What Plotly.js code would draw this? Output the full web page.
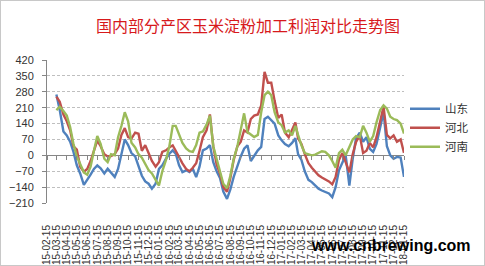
<!DOCTYPE html>
<html>
<head>
<meta charset="utf-8">
<script src="https://cdn.plot.ly/plotly-3.0.1.min.js"></script>
<style>
  html, body { margin:0; padding:0; background:#fff; }
  #wrap { position:relative; width:485px; height:266px; }
  #chart { position:absolute; left:0; top:0; width:485px; height:266px; }
  #frame { position:absolute; left:0; top:0; width:483px; height:264px; border:1px solid #c8c8c8; pointer-events:none; }
</style>
</head>
<body>
<div id="wrap"><div id="chart"></div><div id="frame"></div></div>
<script>
// ---- data ----
const dates = [
  '2015-03-15','2015-03-25',
  '2015-04-05','2015-04-15','2015-04-25',
  '2015-05-05','2015-05-15','2015-05-25',
  '2015-06-05','2015-06-15','2015-06-25',
  '2015-07-05','2015-07-15','2015-07-25',
  '2015-08-05','2015-08-15','2015-08-25',
  '2015-09-05','2015-09-15','2015-09-25',
  '2015-10-05','2015-10-15','2015-10-25',
  '2015-11-05','2015-11-15','2015-11-25',
  '2015-12-05','2015-12-15','2015-12-25',
  '2016-01-05','2016-01-15','2016-01-25',
  '2016-02-05','2016-02-15','2016-02-25',
  '2016-03-05','2016-03-15','2016-03-25',
  '2016-04-05','2016-04-15','2016-04-25',
  '2016-05-05','2016-05-15','2016-05-25',
  '2016-06-05','2016-06-15','2016-06-25',
  '2016-07-05','2016-07-15','2016-07-25',
  '2016-08-05','2016-08-15','2016-08-25',
  '2016-09-05','2016-09-15','2016-09-25',
  '2016-10-05','2016-10-15','2016-10-25',
  '2016-11-05','2016-11-15','2016-11-25',
  '2016-12-05','2016-12-15','2016-12-25',
  '2017-01-05','2017-01-15','2017-01-25',
  '2017-02-05','2017-02-15','2017-02-25',
  '2017-03-05','2017-03-15','2017-03-25',
  '2017-04-05','2017-04-15','2017-04-25',
  '2017-05-05','2017-05-15','2017-05-25',
  '2017-06-05','2017-06-15','2017-06-25',
  '2017-07-05','2017-07-15','2017-07-25',
  '2017-08-05','2017-08-15','2017-08-25',
  '2017-09-05','2017-09-15','2017-09-25',
  '2017-10-05','2017-10-15','2017-10-25',
  '2017-11-05','2017-11-15','2017-11-25',
  '2017-12-05','2017-12-15','2017-12-25',
  '2018-01-05','2018-01-15'
];

const shandong = [
  268, 200,
  105, 88, 60,
  15, -44, -80,
  -130, -110, -85,
  -60, -44, -57,
  -80, -59, -74,
  -95, -60, 10,
  70, 45, 10,
  -5, -45, -90,
  -115, -125, -147,
  -125, -60, -44,
  -15, 7, 22,
  7, -44, -74,
  -66, -74, -59,
  -96, -50, 22,
  30, 45, -30,
  -70, -100, -160,
  -192, -150, -95,
  -44, -5, 29,
  44, -25, 0,
  22, 37, 160,
  170, 155, 140,
  88, 66, 50,
  40, 55, 75,
  5, -20, -70,
  -108, -118, -135,
  -147, -155, -162,
  -168, -184, -140,
  -66, -29, 0,
  -133, -15, 75,
  100, 60, 80,
  29, 15, 50,
  120, 190, 40,
  0, -15, -7,
  -10, -95
];

const hebei = [
  258, 236,
  180, 150, 110,
  40, 25, -50,
  -72, -60, -25,
  20, 65, 40,
  5, -5, -3,
  5, 30, 90,
  120, 80, 74,
  100, 95, 20,
  45, 10, -25,
  -50, -30, 15,
  22, 35, 44,
  20, -10, -35,
  -60, -70, -55,
  -35, 20, 80,
  110, 180, 40,
  -40, -80, -140,
  -160, -100, -20,
  40, 60, 110,
  100, 160, 175,
  180, 220, 368,
  320, 320, 240,
  165, 180, 100,
  80, 110, 145,
  75, 50, 5,
  -35, -55, -72,
  -88, -98, -105,
  -115, -128, -95,
  -20, 10, -30,
  -75, 5, 59,
  88, 10, 20,
  55, 35, 80,
  150, 215, 90,
  75, 88, 60,
  70, 11
];

const henan = [
  199, 214,
  195, 175, 125,
  50, -5, -40,
  -75, -85, -50,
  20, 85, 50,
  -15, -30, 5,
  0, 80, 130,
  190, 150, 55,
  35, 5, -10,
  -35, -65, -80,
  -110, -133, -70,
  -20, 40, 130,
  130, 90, 55,
  30, 18, 15,
  45, 100, 105,
  135, 175, 40,
  -20, -70, -125,
  -145, -90, -15,
  40, 120, 185,
  103, 90, 81,
  90, 190, 265,
  280, 265, 190,
  145, 133, 100,
  110, 88, 130,
  90, 44, 10,
  5, 0, 3,
  10, 18, 15,
  0, -25, -55,
  10, 25, 0,
  40, 70, 85,
  80, 130, 100,
  60, 85, 145,
  200, 220, 206,
  170, 160, 155,
  140, 96
];

const seriesNames = ['山东', '河北', '河南'];
const seriesColors = ['#4F81BD', '#C0504D', '#9BBB59'];
const titleText = '国内部分产区玉米淀粉加工利润对比走势图';
const xRange = ['2015-02-15', '2018-01-15'];
const yTicks = [-210, -140, -70, 0, 70, 140, 210, 280, 350, 420];

// ---- traces ----
const seriesValues = [shandong, hebei, henan];
const traces = seriesValues.map((vals, i) => ({
  type: 'scatter', mode: 'lines',
  x: dates, y: vals, name: seriesNames[i],
  line: { color: seriesColors[i], width: 2.4 },
  hoverinfo: 'skip'
}));
// helper trace so that the tick axis drawn on the zero line exists
traces.push({ type: 'scatter', mode: 'lines', x: [dates[0]], y: [null], xaxis: 'x2', yaxis: 'y', showlegend: false, hoverinfo: 'skip' });

const axisFont = { family: 'Liberation Sans, Arial, sans-serif', size: 10, color: '#333' };

const layout = {
  width: 485, height: 266,
  margin: { l: 47, r: 80, t: 60, b: 63, pad: 0 },
  paper_bgcolor: '#ffffff', plot_bgcolor: '#ffffff',
  showlegend: true,
  title: {
    text: titleText,
    font: { family: 'Noto Sans CJK SC, sans-serif', size: 16, color: '#d7191c' },
    x: 248 / 485, xanchor: 'center', xref: 'container',
    y: 1 - 26 / 266, yanchor: 'middle', yref: 'container'
  },
  xaxis: {
    type: 'date', range: xRange, tick0: '2015-02-15', dtick: 'M1',
    tickformat: '%y-%m-%d', tickangle: -90,
    showgrid: false, showline: false, zeroline: false,
    ticks: 'outside', ticklen: 0, ticklabelstandoff: 17,
    tickfont: axisFont, fixedrange: true
  },
  xaxis2: {
    type: 'date', range: xRange, tick0: '2015-02-15', dtick: 'M1',
    overlaying: 'x', anchor: 'free', position: 210 / 630,
    showticklabels: false, showgrid: false, showline: false, zeroline: false,
    ticks: 'outside', ticklen: 4, tickcolor: '#868686', tickwidth: 1, fixedrange: true
  },
  yaxis: {
    range: [-210, 420], tickvals: yTicks,
    gridcolor: '#bfbfbf', griddash: '3px,2px', gridwidth: 1,
    zeroline: true, zerolinecolor: '#868686', zerolinewidth: 1,
    showline: true, linecolor: '#868686', linewidth: 1,
    ticks: 'outside', ticklen: 4, tickcolor: '#868686', ticklabelstandoff: 6,
    tickfont: { family: 'Liberation Sans, Arial, sans-serif', size: 11, color: '#333' },
    fixedrange: true
  },
  legend: {
    x: 1.0, xanchor: 'left', y: 0.76, yanchor: 'top',
    bgcolor: 'rgba(0,0,0,0)', borderwidth: 0,
    font: { family: 'Noto Sans CJK SC, sans-serif', size: 11.5, color: '#333' },
    itemwidth: 30, tracegroupgap: 0
  },
  annotations: [{
    text: 'www.cnbrewing.com', xref: 'paper', yref: 'paper',
    x: (392 - 47) / 358, y: (203 - 245) / 143, xanchor: 'center', yanchor: 'middle',
    showarrow: false,
    font: { family: 'Liberation Sans, Arial, sans-serif', size: 16, color: '#000', weight: 'bold' }
  }]
};

Plotly.newPlot('chart', traces, layout, { displayModeBar: false, staticPlot: true });
</script>
</body>
</html>
